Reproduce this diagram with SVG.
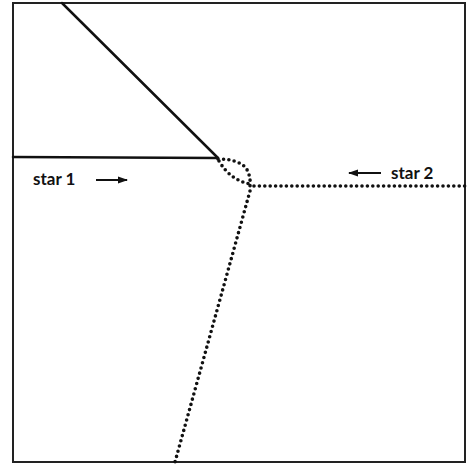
<svg xmlns="http://www.w3.org/2000/svg" width="467" height="464" viewBox="0 0 467 464">
<defs>
<style>
.frame{fill:none;stroke:#222;stroke-width:2}
.solid{fill:none;stroke:#111;stroke-width:2.5;stroke-linecap:round}
.dot{fill:none;stroke:#111;stroke-width:3.6;stroke-linecap:round;stroke-dasharray:0 5.4}
.lbl{font-family:Lato,"Open Sans",sans-serif;font-weight:bold;font-size:17px;fill:#111}
.arr{stroke:#111;stroke-width:2;fill:none}
</style>
<marker id="ah" viewBox="0 0 10 10" refX="9" refY="5" markerWidth="5" markerHeight="5" orient="auto-start-reverse">
<path d="M0,1.5 L10,5 L0,8.5 Z" fill="#111"/>
</marker>
</defs>
<rect width="467" height="464" fill="#fff"/>
<rect class="frame" x="13" y="3" width="452" height="459"/>
<g id="connectors">
<path class="solid" d="M62,3 L218,158"/>
<path class="solid" d="M13,157 L218,158"/>
<path class="dot" d="M218,159 Q238,159 246,168 Q251,176 250,186"/>
<path class="dot" d="M219,161 Q230,180 250,184"/>
<path class="dot" d="M254,186 L465,186"/>
<path class="dot" d="M250,191 L175,462"/>
</g>
<g id="star1">
<text class="lbl" x="33" y="185">star 1</text>
<line class="arr" x1="96" y1="180" x2="127" y2="180" marker-end="url(#ah)"/>
</g>
<g id="star2">
<text class="lbl" x="391" y="179">star 2</text>
<line class="arr" x1="381" y1="173" x2="349" y2="173" marker-end="url(#ah)"/>
</g>
</svg>
